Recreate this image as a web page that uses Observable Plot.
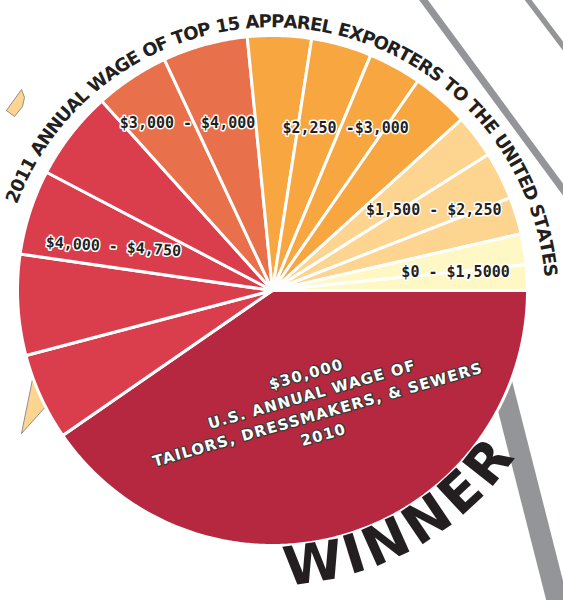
<!DOCTYPE html>
<html>
<head>
<meta charset="utf-8">
<script src="https://cdn.jsdelivr.net/npm/d3@7"></script>
<script src="https://cdn.jsdelivr.net/npm/@observablehq/plot@0.6"></script>
<style>
html, body { margin: 0; padding: 0; background: #fff; overflow: hidden; }
</style>
</head>
<body>
<div id="chart"></div>
<script>
// ---------------- DATA ----------------
const categories = [
  "U.S. tailors, dressmakers & sewers (2010)",
  "Exporter 1", "Exporter 2", "Exporter 3", "Exporter 4", "Exporter 5",
  "Exporter 6", "Exporter 7", "Exporter 8", "Exporter 9", "Exporter 10",
  "Exporter 11", "Exporter 12", "Exporter 13", "Exporter 14", "Exporter 15"
];
const wages = [30000, 4100, 4750, 4000, 4200, 3500, 4000, 3000, 2850, 2500, 2700, 2050, 2250, 1750, 1450, 1200];
const wageBand = [0, 1, 1, 1, 1, 2, 2, 3, 3, 3, 3, 4, 4, 4, 5, 5];
const bandLabels = [
  "$30,000\nU.S. ANNUAL WAGE OF\nTAILORS, DRESSMAKERS, & SEWERS\n2010",
  "$4,000 - $4,750",
  "$3,000 - $4,000",
  "$2,250 -$3,000",
  "$1,500 - $2,250",
  "$0 - $1,5000"
];
const titleText = "2011 ANNUAL WAGE OF TOP 15 APPAREL EXPORTERS TO THE UNITED STATES";
const winnerText = "WINNER";

// ---------------- LAYOUT / STYLE ----------------
const W = 563, H = 600, CX = 272, CY = 290, R = 255;
const palette = ["#b5283f", "#da3e4d", "#e8704b", "#f8a640", "#fdd590", "#fff8c5"];
const labelLayout = [
  {shift: -3.1, r: 120, rotate: -16},
  {shift: 8.7, r: 165, rotate: 3.8},
  {shift: -3.0, r: 188, rotate: 0},
  {shift: 3.2, r: 178, rotate: 0},
  {shift: 1.1, r: 180, rotate: 0},
  {shift: 0.6, r: 184, rotate: 0}
];
const titleArc = {cx: 272, cy: 300, r: 279, a0: -68.1, a1: 83.8};
const winnerArc = {cx: 272, cy: 290, r: 277, a0: 171.5, a1: 128.5};
const poles = [
  {x1: 416, y1: -10, x2: 575, y2: 206, w: 7},
  {x1: 522, y1: -8, x2: 575, y2: 62, w: 5.5},
  {x1: 493, y1: 350, x2: 563, y2: 625, w: 21}
];
const pennants = [
  [[6, 110], [21, 89], [24, 97], [22, 106], [14, 116]],
  [[33, 374], [47, 404], [21, 433]]
];

// ---------------- HELPERS ----------------
const deg = Math.PI / 180;
const ctx = document.createElement("canvas").getContext("2d");
function measure(font, s) { ctx.font = font; return ctx.measureText(s).width; }
function polar(cx, cy, r, aDeg) {
  return [cx + r * Math.sin(aDeg * deg), cy - r * Math.cos(aDeg * deg)];
}
function arcText(str, font, arc, flip) {
  const chars = Array.from(str);
  const w = chars.map(c => measure(font, c));
  let acc = 0;
  const centers = w.map(wi => { const c = acc + wi / 2; acc += wi; return c; });
  const c0 = centers[0], cN = centers[centers.length - 1];
  return chars.map((ch, i) => {
    const t = (centers[i] - c0) / (cN - c0);
    const a = arc.a0 + t * (arc.a1 - arc.a0);
    const [x, y] = polar(arc.cx, arc.cy, arc.r, a);
    return {ch, x, y, rotate: flip ? a - 180 : a};
  }).filter(d => d.ch !== " ");
}

// ---------------- PIE GEOMETRY ----------------
const arcs = d3.pie().sort(null).value(d => d)
  .startAngle(Math.PI / 2).endAngle(Math.PI / 2 + 2 * Math.PI)(wages);

const slicePts = [];
arcs.forEach((a, i) => {
  const a0 = a.startAngle / deg, a1 = a.endAngle / deg;
  const color = palette[wageBand[i]];
  const n = Math.max(2, Math.ceil((a1 - a0) / 0.5));
  slicePts.push({id: categories[i], x: CX, y: CY, color});
  for (let k = 0; k <= n; k++) {
    const [x, y] = polar(CX, CY, R, a0 + (a1 - a0) * k / n);
    slicePts.push({id: categories[i], x, y, color});
  }
  slicePts.push({id: categories[i], x: CX, y: CY, color});
});

const labels = bandLabels.map((text, b) => {
  const idx = wageBand.map((v, i) => v === b ? i : -1).filter(i => i >= 0);
  const a0 = d3.min(idx, i => arcs[i].startAngle) / deg;
  const a1 = d3.max(idx, i => arcs[i].endAngle) / deg;
  const L = labelLayout[b];
  const [x, y] = polar(CX, CY, L.r, (a0 + a1) / 2 + L.shift);
  return {text, x, y, rotate: L.rotate, band: b};
});

const pennantPts = [];
pennants.forEach((p, j) => [...p, p[0]].forEach(([x, y]) => pennantPts.push({id: j, x, y})));

const titleFont = "bold 18px 'DejaVu Sans'";
const titleChars = arcText(titleText, titleFont, titleArc, false);
const winnerFont = "bold 54px 'DejaVu Sans'";
const winnerChars = arcText(winnerText, winnerFont, winnerArc, true);

// ---------------- PLOT ----------------
const chart = Plot.plot({
  width: W, height: H, margin: 0,
  x: {domain: [0, W], range: [0, W], axis: null},
  y: {domain: [0, H], range: [0, H], axis: null},
  color: {type: "identity"},
  style: {background: "white"},
  marks: [
    Plot.link(poles, {x1: "x1", y1: "y1", x2: "x2", y2: "y2", stroke: "#939598", strokeWidth: "w", strokeLinecap: "butt"}),
    Plot.line(pennantPts, {x: "x", y: "y", z: "id", fill: "#fdd590", stroke: "#8f8f8f", strokeWidth: 1, curve: "linear"}),
    Plot.line(slicePts, {x: "x", y: "y", z: "id", fill: "color", stroke: "white", strokeWidth: 3, strokeLinejoin: "round", curve: "linear"}),
    Plot.text(labels.filter(d => d.band > 0), {
      x: "x", y: "y", text: "text", rotate: "rotate",
      fontFamily: "'DejaVu Sans Mono'", fontWeight: "bold", fontSize: 15,
      fill: "#231f20", stroke: "white", strokeWidth: 3, paintOrder: "stroke"
    }),
    Plot.text(labels.filter(d => d.band === 0), {
      x: "x", y: "y", text: "text", rotate: "rotate", lineHeight: 1.4,
      fontFamily: "'DejaVu Sans'", fontWeight: "bold", fontSize: 15,
      fill: "white", stroke: "#3a3a3a", strokeWidth: 2.5, paintOrder: "stroke"
    }),
    Plot.text(titleChars, {
      x: "x", y: "y", text: "ch", rotate: "rotate",
      fontFamily: "'DejaVu Sans'", fontWeight: "bold", fontSize: 18, fill: "#231f20"
    }),
    Plot.text(winnerChars, {
      x: "x", y: "y", text: "ch", rotate: "rotate",
      fontFamily: "'DejaVu Sans'", fontWeight: "bold", fontSize: 54, fill: "#231f20"
    })
  ]
});
d3.select(chart).selectAll("text")
  .filter(function () { return this.textContent.includes("TAILORS"); })
  .style("letter-spacing", "1.2px");
document.getElementById("chart").appendChild(chart);
</script>
</body>
</html>
